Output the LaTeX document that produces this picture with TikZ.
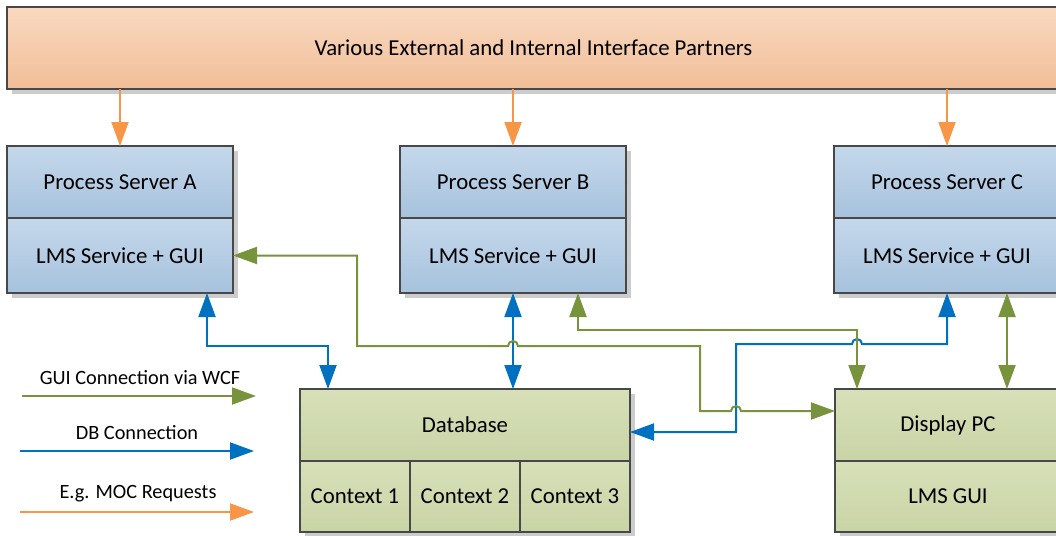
\documentclass[tikz,border=0pt]{standalone}
\usepackage{fontspec}
\setmainfont{Carlito}
\usepackage{tikz}
\definecolor{orangeline}{RGB}{247,150,70}
\definecolor{greenline}{RGB}{119,147,60}
\definecolor{blueline}{RGB}{0,112,192}
\definecolor{boxline}{RGB}{72,72,72}
\definecolor{shadowgray}{RGB}{204,204,204}
\usetikzlibrary{arrows.meta}
\usetikzlibrary{positioning,shadows}
\tikzset{
  boxnode/.style = {align=center, inner sep=0pt, outer sep=0pt, text centered,
    font=\fontsize{22.8}{26}\selectfont, draw=boxline, line width=1.5pt,
    drop shadow={shadow xshift=5pt, shadow yshift=-5pt, fill=shadowgray, opacity=1}},% kasten mit schatten
  part_o/.style = {boxnode, top color={rgb,255:red,249;green,217;blue,192},
    bottom color={rgb,255:red,241;green,190;blue,152}},% partner
  part_b/.style = {boxnode, top color={rgb,255:red,197;green,216;blue,235},
    bottom color={rgb,255:red,166;green,194;blue,221}, minimum width=226pt},% server
  part_g/.style = {boxnode, top color={rgb,255:red,215;green,224;blue,184},
    bottom color={rgb,255:red,201;green,212;blue,166}},% datenbank, display
  legend_txt/.style = {inner sep=0pt, font=\fontsize{20.3}{24}\selectfont},
  gui_line/.style = {greenline, line width=2pt},
  db_line/.style = {blueline, line width=2pt},
  req_line/.style = {orangeline, line width=2pt},
}

\begin{document}
\begin{tikzpicture}[x=1pt,y=1pt,>={Triangle[length=24pt,width=17pt]}]
  \path[use as bounding box, clip] (0,0) rectangle (1056,-535);

  \node[part_o, minimum width=1053pt, minimum height=82pt] (partners) at (533.5,-48)
    {Various External and Internal Interface Partners};

  \foreach \x/\name in {120/A, 513/B, 947/C} {
    \node[part_b, minimum height=72pt] (ps\name) at (\x,-182) {Process Server \name};
    \node[part_b, minimum height=75pt, below=0pt of ps\name] (lms\name) {LMS Service + GUI};
  }

  \node[part_g, minimum width=330pt, minimum height=72pt] (db) at (465,-425) {Database};
  \foreach \i/\x in {1/355, 2/465, 3/575}
  \node[part_g, minimum width=110pt, minimum height=71pt] (ctx\i) at (\x,-496.5) {Context \i};

  \node[part_g, minimum width=226pt, minimum height=72pt] (dpc) at (948,-425) {Display PC};
  \node[part_g, minimum width=226pt, minimum height=71pt, below=0pt of dpc] (gui) {LMS GUI};

  %   requests
  \foreach \name in {A,B,C}
  \draw[req_line, ->] (partners.south -| ps\name) -- (ps\name.north);

  %   db connections
  \draw[db_line, <->] ([xshift=87pt]lmsA.south) -- ++(0,-53) -| ([xshift=-137pt]db.north);
  \draw[db_line, <->] (lmsB.south) -- (lmsB.south |- db.north);
  \draw[db_line, <->] (lmsC.south) -- ++(0,-51) -- (862,-344) arc (0:180:5)
    -- (736,-344) |- ([yshift=-7pt]db.east);

  %   gui connections
  \draw[gui_line, <->] (lmsA.east) -| (357,-346) -- (508,-346) arc (180:0:5)
    -- (700,-346) |- (731,-411) arc (180:0:5) -- ([yshift=14pt]dpc.west);
  \draw[gui_line, <->] ([xshift=65pt]lmsB.south) -- ++(0,-37) -| ([xshift=-91pt]dpc.north);
  \draw[gui_line, <->] ([xshift=60pt]lmsC.south) -- ([xshift=60pt]lmsC.south |- dpc.north);

  %   legend
  \node[legend_txt] (lgui) at (140,-378) {GUI Connection via WCF};
  \node[legend_txt] (ldb) at (137,-433) {DB Connection};
  \node[legend_txt] (lreq) at (138,-494) {E.g. MOC Requests};
  \coordinate (lgui_s) at (22,-396);
  \coordinate (lgui_e) at (256,-396);
  \coordinate (ldb_s) at (20,-451);
  \coordinate (ldb_e) at (254,-451);
  \coordinate (lreq_s) at (20,-512);
  \coordinate (lreq_e) at (254,-512);
  \draw[gui_line, ->] (lgui_s) -- (lgui_e);
  \draw[db_line, ->] (ldb_s) -- (ldb_e);
  \draw[req_line, ->] (lreq_s) -- (lreq_e);
\end{tikzpicture}
\end{document}
